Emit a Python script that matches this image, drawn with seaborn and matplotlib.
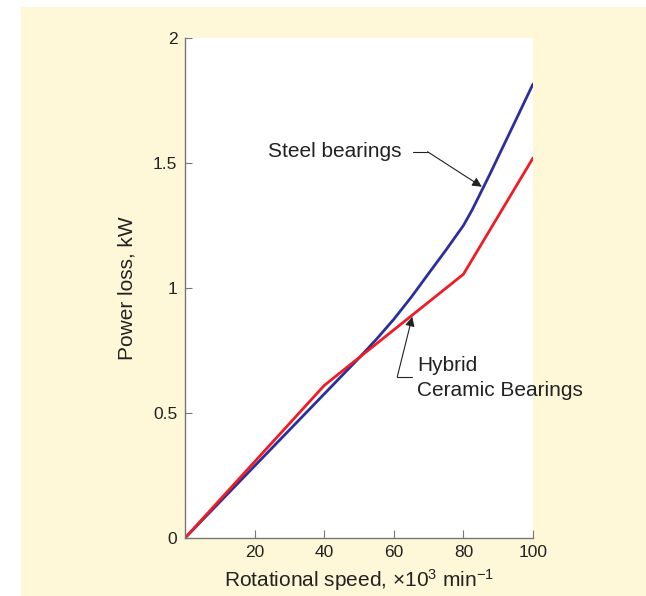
import pandas as pd
import numpy as np
import matplotlib.pyplot as plt
import matplotlib.patches as mpatches
import seaborn as sns

# Data
speed_steel = [0, 10, 20, 30, 40, 50, 55, 60, 65, 70, 75, 80, 82.5, 85,
               87.5, 90, 95, 100]
loss_steel = [0, 0.144, 0.288, 0.432, 0.576, 0.72, 0.795, 0.875, 0.963,
              1.058, 1.152, 1.25, 1.312, 1.382, 1.452, 1.525, 1.67, 1.816]

speed_hybrid = [0, 40, 80, 100]
loss_hybrid = [0, 0.61, 1.055, 1.52]

x_ticks = [20, 40, 60, 80, 100]
y_ticks = [0, 0.5, 1, 1.5, 2]
y_tick_labels = ['0', '0.5', '1', '1.5', '2']

BLUE = '#2B2F9B'
RED = '#EE1C24'
YELLOW = '#FFF8D8'
SPINE = '#777777'
INK = '#222222'


def main():
    sns.set_style('ticks')
    plt.rcParams['font.family'] = ['Liberation Sans', 'DejaVu Sans']
    plt.rcParams['mathtext.fontset'] = 'custom'
    plt.rcParams['mathtext.rm'] = 'Liberation Sans'
    plt.rcParams['mathtext.it'] = 'Liberation Sans'

    steel = pd.DataFrame({'speed': speed_steel, 'loss': loss_steel})
    hybrid = pd.DataFrame({'speed': speed_hybrid, 'loss': loss_hybrid})

    fig = plt.figure(figsize=(6.46, 5.96), dpi=100, facecolor='white')
    # pale yellow panel behind the plot
    panel = mpatches.Rectangle((21 / 646, 0), 1, 589 / 596,
                               transform=fig.transFigure,
                               facecolor=YELLOW, edgecolor='none', zorder=-10)
    fig.add_artist(panel)
    ax = fig.add_axes([185 / 646, 58 / 596, 348 / 646, 500 / 596])
    ax.set_zorder(1)
    ax.set_facecolor('white')

    sns.lineplot(data=steel, x='speed', y='loss', color=BLUE, lw=2.0, ax=ax,
                 sort=False, solid_joinstyle='round')
    sns.lineplot(data=hybrid, x='speed', y='loss', color=RED, lw=2.0, ax=ax,
                 sort=False, solid_joinstyle='miter')

    ax.set_xlim(0, 100)
    ax.set_ylim(0, 2)
    ax.set_xticks(x_ticks)
    ax.set_yticks(y_ticks)
    ax.set_yticklabels(y_tick_labels)

    sns.despine(ax=ax)
    for side in ['left', 'bottom']:
        ax.spines[side].set_color(SPINE)
        ax.spines[side].set_linewidth(1.0)
    ax.tick_params(axis='x', direction='in', length=6, color=SPINE,
                   labelsize=12.5, labelcolor=INK, pad=5)
    ax.tick_params(axis='y', direction='in', length=5, color=SPINE,
                   labelsize=12.5, labelcolor=INK, pad=5.5)

    ax.set_xlabel(r'Rotational speed, $\times$10$^3$ min$^{-1}$',
                  fontsize=15, color=INK, labelpad=5)
    ax.set_ylabel('Power loss, kW', fontsize=15, color=INK, labelpad=12)

    # callouts
    ax.annotate('', xy=(85.3, 1.405), xytext=(69.7, 1.545),
                arrowprops=dict(arrowstyle='-|>', color=INK, lw=0.8,
                                mutation_scale=14, shrinkA=0, shrinkB=0))
    ax.plot([65.5, 69.7], [1.545, 1.545], color=INK, lw=0.8)
    ax.text(23.9, 1.545, 'Steel bearings', fontsize=15, color=INK,
            va='center', ha='left')

    ax.annotate('', xy=(65.3, 0.885), xytext=(61.0, 0.645),
                arrowprops=dict(arrowstyle='-|>', color=INK, lw=0.8,
                                mutation_scale=14, shrinkA=0, shrinkB=0))
    ax.plot([61.0, 65.3], [0.645, 0.645], color=INK, lw=0.8)
    ax.text(66.6, 0.64, 'Hybrid\nCeramic Bearings', fontsize=15,
            color=INK, va='center', ha='left', linespacing=1.35,
            clip_on=False)

    fig.savefig('out.png', dpi=100, facecolor=fig.get_facecolor())
    plt.close(fig)


if __name__ == '__main__':
    main()
